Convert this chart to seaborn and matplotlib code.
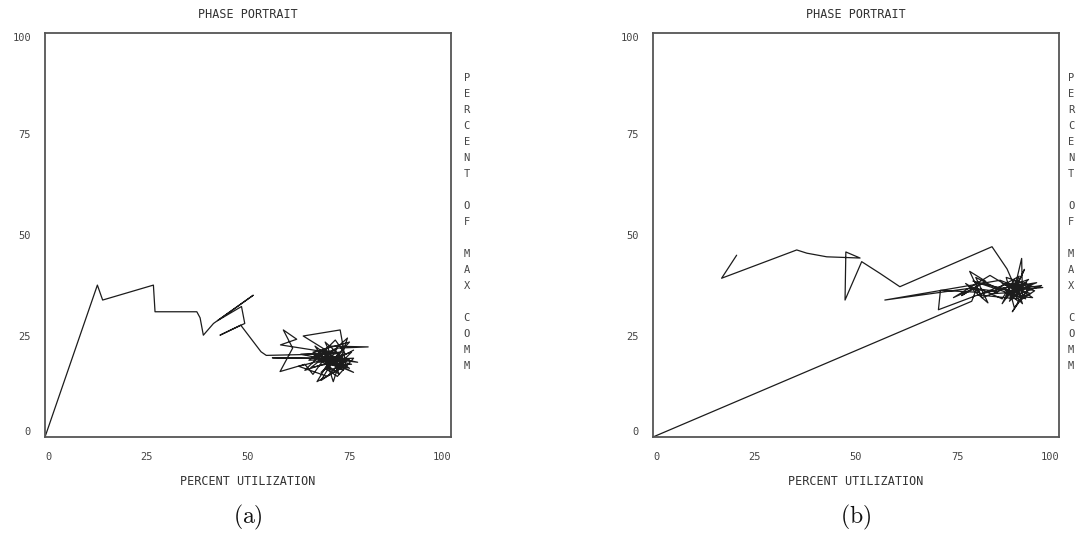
import pandas as pd
import matplotlib.pyplot as plt
import seaborn as sns

# values (percent utilization vs percent of max comm)
a_util = [0, 12.9, 14.2, 26.7, 27.1, 37.4, 38.2, 39.0, 41.5, 51.3,
          42.5, 48.4, 49.2, 43.1, 48.2, 53.2, 54.5, 72.0, 58.0, 62.0,
          58.7, 61.0, 57.9, 64.0, 66.0, 70.0, 63.6, 72.7, 73.5, 74.0,
          68.0, 71.0, 66.0, 75.0, 69.0, 72.0, 76.0, 65.0, 70.0, 79.6,
          72.0, 67.0, 73.0, 68.0, 76.0, 70.0, 64.0, 71.5, 74.0, 62.5,
          69.5, 75.5, 67.5, 73.0, 56.0, 75.0, 70.5, 66.5, 72.5, 75.0,
          68.5, 71.0, 74.5, 69.0, 77.0, 70.0, 73.5, 67.0, 71.5, 65.5,
          74.0, 69.0, 72.5, 66.0, 75.5, 70.5, 68.0, 73.0, 63.0, 71.0,
          76.0]
a_comm = [0, 37.6, 33.9, 37.6, 31.0, 31.0, 29.5, 25.2, 28.1, 35.1,
          28.8, 32.3, 28.1, 25.2, 27.7, 21.1, 20.2, 20.6, 22.8, 24.2,
          26.5, 22.0, 16.2, 18.0, 15.5, 21.0, 25.0, 26.5, 22.0, 18.0,
          14.0, 19.0, 21.0, 23.5, 17.0, 15.0, 19.5, 19.0, 22.5, 22.3,
          22.0, 13.7, 17.0, 20.0, 16.0, 18.5, 16.5, 24.0, 20.5, 17.5,
          15.0, 21.0, 18.5, 19.5, 19.6, 19.3, 16.5, 22.5, 18.0, 17.0,
          21.5, 13.7, 24.5, 19.5, 18.5, 20.0, 16.5, 19.8, 21.8, 17.2,
          19.0, 23.5, 15.5, 20.5, 18.0, 17.8, 16.0, 21.0, 20.5, 18.8,
          21.5]

b_util = [0, 78.5, 80.0, 76.0, 82.0, 78.0, 81.0, 85.0, 79.0, 74.0,
          83.0, 88.0, 86.0, 90.0, 84.0, 92.0, 89.0, 87.0, 93.0, 88.5,
          91.0, 90.8, 89.0, 95.7, 88.0, 92.5, 86.5, 90.0, 94.0, 87.5,
          70.3, 70.8, 80.5, 77.0, 82.5, 79.5, 84.0, 88.8, 91.5, 89.5,
          93.5, 87.0, 90.5, 85.5, 57.1, 78.0, 81.5, 86.0, 89.0, 91.0,
          88.0, 96.0, 88.5, 91.0, 86.0, 93.0, 89.5, 80.0, 92.0, 87.8,
          90.2, 84.5, 94.5, 89.0, 78.8, 91.8, 88.2, 90.0, 87.2, 83.5,
          60.8, 55.9, 51.4, 47.3, 47.5, 51.0, 42.8, 37.9, 35.4, 16.9,
          20.6]
b_comm = [0, 33.6, 37.5, 35.0, 38.5, 41.0, 34.5, 36.0, 36.8, 34.5,
          40.0, 37.0, 33.0, 38.5, 35.5, 36.0, 32.0, 39.5, 37.5, 31.0,
          35.0, 44.2, 36.5, 37.5, 34.5, 39.0, 36.8, 33.5, 36.2, 38.0,
          31.5, 36.3, 35.8, 38.0, 33.2, 39.5, 37.2, 35.8, 41.5, 37.2,
          34.5, 35.0, 36.8, 38.8, 33.9, 36.8, 36.2, 34.2, 39.0, 33.0,
          36.2, 37.0, 37.8, 36.5, 38.0, 35.5, 34.2, 35.2, 38.2, 33.6,
          39.8, 36.6, 38.2, 36.0, 38.6, 34.2, 36.9, 35.2, 41.6, 47.1,
          37.2, 40.5, 43.4, 33.9, 45.8, 44.3, 44.6, 45.5, 46.3, 39.3,
          45.0]

ticks = [0, 25, 50, 75, 100]
tick_labels = ['0', '25', '50', '75', '100']
side_label = 'PERCENT OF MAX COMM'
panel_names = ['(a)', '(b)']

sns.set_style('white')
plt.rcParams['font.family'] = ['DejaVu Sans Mono']
plt.rcParams['mathtext.fontset'] = 'cm'

fig = plt.figure(figsize=(10.88, 5.35), dpi=100)
W, H = 1088, 535
ax_a = fig.add_axes([45 / W, 98 / H, 406 / W, 404 / H])
ax_b = fig.add_axes([653 / W, 98 / H, 406 / W, 404 / H])

panels = [
    (ax_a, pd.DataFrame({'util': a_util, 'comm': a_comm}), 1.039),
    (ax_b, pd.DataFrame({'util': b_util, 'comm': b_comm}), 1.030),
]

for i, (ax, df, side_x) in enumerate(panels):
    sns.lineplot(data=df, x='util', y='comm', sort=False, estimator=None,
                 color='#1c1c1c', linewidth=0.9, ax=ax)
    ax.set_xlim(0, 100)
    ax.set_ylim(0, 100)
    ax.set_xticks(ticks)
    ax.set_yticks(ticks)
    ax.set_xticklabels(tick_labels)
    ax.set_yticklabels(tick_labels)
    ax.tick_params(axis='x', length=0, pad=11, labelsize=7.5, labelcolor='#444444')
    ax.tick_params(axis='y', length=0, pad=10, labelsize=7.5, labelcolor='#444444')
    xl = ax.get_xticklabels()
    xl[0].set_ha('left')
    xl[-1].set_ha('right')
    yl = ax.get_yticklabels()
    yl[0].set_va('bottom')
    yl[-1].set_va('top')
    for sp in ax.spines.values():
        sp.set_visible(True)
        sp.set_color('#555555')
        sp.set_linewidth(1.3)
    ax.set_title('PHASE PORTRAIT', pad=11, fontsize=8.5, color='#333333')
    ax.set_xlabel('PERCENT UTILIZATION', fontsize=8.5, color='#333333')
    ax.xaxis.set_label_coords(0.5, -0.094)
    ax.set_ylabel('')
    # vertical stacked letters on the right side
    for k, ch in enumerate(side_label):
        if ch != ' ':
            ax.text(side_x, 0.889 - k * 0.0396, ch, transform=ax.transAxes,
                    ha='center', va='center', fontsize=7.5, color='#444444')
    fig.text([248, 856][i] / W, (535 - 517) / H, r'$\mathrm{' + panel_names[i] + '}$',
             ha='center', va='center', fontsize=17, color='#111111')

fig.savefig('out.png', dpi=100)
